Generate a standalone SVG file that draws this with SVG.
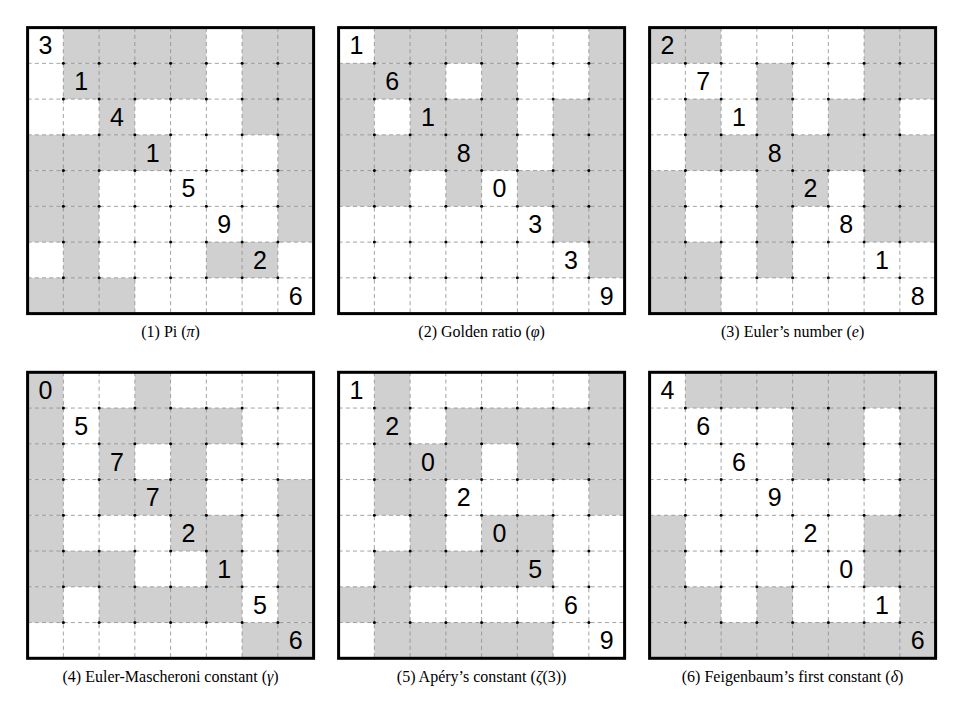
<svg xmlns="http://www.w3.org/2000/svg" xmlns:xlink="http://www.w3.org/1999/xlink" width="963" height="708" viewBox="0 0 963 708">
<style>
.sh{fill:#d0d0d0;stroke:none}
.dl{stroke:#8c8c8c;stroke-width:0.8;stroke-dasharray:4 3.2;fill:none}
.dt{fill:#000}
.bd{fill:none;stroke:#000;stroke-width:3}
.dg{font-family:"Liberation Sans",Arial,sans-serif;font-size:25px;fill:#000;text-anchor:middle}
.cp{font-family:"Liberation Serif","Times New Roman",serif;font-size:16px;fill:#000;text-anchor:middle}
.mi{font-style:italic}
</style>
<defs>
<g id="lattice">
<path class="dl" d="M35.75 0V286M71.5 0V286M107.25 0V286M143 0V286M178.75 0V286M214.5 0V286M250.25 0V286M0 35.75H286M0 71.5H286M0 107.25H286M0 143H286M0 178.75H286M0 214.5H286M0 250.25H286"/>
<g class="dt">
<circle cx="35.75" cy="35.75" r="1.5"/><circle cx="71.5" cy="35.75" r="1.5"/><circle cx="107.25" cy="35.75" r="1.5"/><circle cx="143" cy="35.75" r="1.5"/><circle cx="178.75" cy="35.75" r="1.5"/><circle cx="214.5" cy="35.75" r="1.5"/><circle cx="250.25" cy="35.75" r="1.5"/>
<circle cx="35.75" cy="71.5" r="1.5"/><circle cx="71.5" cy="71.5" r="1.5"/><circle cx="107.25" cy="71.5" r="1.5"/><circle cx="143" cy="71.5" r="1.5"/><circle cx="178.75" cy="71.5" r="1.5"/><circle cx="214.5" cy="71.5" r="1.5"/><circle cx="250.25" cy="71.5" r="1.5"/>
<circle cx="35.75" cy="107.25" r="1.5"/><circle cx="71.5" cy="107.25" r="1.5"/><circle cx="107.25" cy="107.25" r="1.5"/><circle cx="143" cy="107.25" r="1.5"/><circle cx="178.75" cy="107.25" r="1.5"/><circle cx="214.5" cy="107.25" r="1.5"/><circle cx="250.25" cy="107.25" r="1.5"/>
<circle cx="35.75" cy="143" r="1.5"/><circle cx="71.5" cy="143" r="1.5"/><circle cx="107.25" cy="143" r="1.5"/><circle cx="143" cy="143" r="1.5"/><circle cx="178.75" cy="143" r="1.5"/><circle cx="214.5" cy="143" r="1.5"/><circle cx="250.25" cy="143" r="1.5"/>
<circle cx="35.75" cy="178.75" r="1.5"/><circle cx="71.5" cy="178.75" r="1.5"/><circle cx="107.25" cy="178.75" r="1.5"/><circle cx="143" cy="178.75" r="1.5"/><circle cx="178.75" cy="178.75" r="1.5"/><circle cx="214.5" cy="178.75" r="1.5"/><circle cx="250.25" cy="178.75" r="1.5"/>
<circle cx="35.75" cy="214.5" r="1.5"/><circle cx="71.5" cy="214.5" r="1.5"/><circle cx="107.25" cy="214.5" r="1.5"/><circle cx="143" cy="214.5" r="1.5"/><circle cx="178.75" cy="214.5" r="1.5"/><circle cx="214.5" cy="214.5" r="1.5"/><circle cx="250.25" cy="214.5" r="1.5"/>
<circle cx="35.75" cy="250.25" r="1.5"/><circle cx="71.5" cy="250.25" r="1.5"/><circle cx="107.25" cy="250.25" r="1.5"/><circle cx="143" cy="250.25" r="1.5"/><circle cx="178.75" cy="250.25" r="1.5"/><circle cx="214.5" cy="250.25" r="1.5"/><circle cx="250.25" cy="250.25" r="1.5"/>
</g>
<rect class="bd" x="0" y="0" width="286" height="286"/>
</g>
</defs>
<rect width="963" height="708" fill="#fff"/>

<g id="puzzle-pi" transform="translate(27.6,27.6)">
<g class="sh">
<rect x="35.75" y="0" width="143" height="35.75"/><rect x="214.5" y="0" width="71.5" height="35.75"/>
<rect x="35.75" y="35.75" width="143" height="35.75"/><rect x="214.5" y="35.75" width="71.5" height="35.75"/>
<rect x="71.5" y="71.5" width="35.75" height="35.75"/><rect x="214.5" y="71.5" width="71.5" height="35.75"/>
<rect x="0" y="107.25" width="143" height="35.75"/><rect x="250.25" y="107.25" width="35.75" height="35.75"/>
<rect x="0" y="143" width="71.5" height="35.75"/><rect x="250.25" y="143" width="35.75" height="35.75"/>
<rect x="0" y="178.75" width="71.5" height="35.75"/><rect x="250.25" y="178.75" width="35.75" height="35.75"/>
<rect x="35.75" y="214.5" width="35.75" height="35.75"/><rect x="178.75" y="214.5" width="71.5" height="35.75"/>
<rect x="0" y="250.25" width="107.25" height="35.75"/>
</g>
<use xlink:href="#lattice" href="#lattice"/>
<g class="dg">
<text x="17.9" y="26.8">3</text><text x="53.6" y="62.6">1</text><text x="89.4" y="98.3">4</text><text x="125.1" y="134.1">1</text><text x="160.9" y="169.8">5</text><text x="196.6" y="205.6">9</text><text x="232.4" y="241.3">2</text><text x="268.1" y="277.1">6</text>
</g>
<text class="cp" x="143" y="309.5">(1) Pi (<tspan class="mi">π</tspan>)</text>
</g>

<g id="puzzle-golden-ratio" transform="translate(338.6,27.6)">
<g class="sh">
<rect x="35.75" y="0" width="143" height="35.75"/><rect x="250.25" y="0" width="35.75" height="35.75"/>
<rect x="0" y="35.75" width="107.25" height="35.75"/><rect x="143" y="35.75" width="35.75" height="35.75"/><rect x="250.25" y="35.75" width="35.75" height="35.75"/>
<rect x="0" y="71.5" width="35.75" height="35.75"/><rect x="71.5" y="71.5" width="107.25" height="35.75"/><rect x="214.5" y="71.5" width="71.5" height="35.75"/>
<rect x="0" y="107.25" width="178.75" height="35.75"/><rect x="214.5" y="107.25" width="71.5" height="35.75"/>
<rect x="0" y="143" width="71.5" height="35.75"/><rect x="107.25" y="143" width="35.75" height="35.75"/><rect x="178.75" y="143" width="107.25" height="35.75"/>
<rect x="214.5" y="178.75" width="71.5" height="35.75"/>
<rect x="250.25" y="214.5" width="35.75" height="35.75"/>
</g>
<use xlink:href="#lattice" href="#lattice"/>
<g class="dg">
<text x="17.9" y="26.8">1</text><text x="53.6" y="62.6">6</text><text x="89.4" y="98.3">1</text><text x="125.1" y="134.1">8</text><text x="160.9" y="169.8">0</text><text x="196.6" y="205.6">3</text><text x="232.4" y="241.3">3</text><text x="268.1" y="277.1">9</text>
</g>
<text class="cp" x="143" y="309.5">(2) Golden ratio (<tspan class="mi">φ</tspan>)</text>
</g>

<g id="puzzle-euler-number" transform="translate(649.6,27.6)">
<g class="sh">
<rect x="0" y="0" width="71.5" height="35.75"/><rect x="214.5" y="0" width="71.5" height="35.75"/>
<rect x="107.25" y="35.75" width="35.75" height="35.75"/><rect x="214.5" y="35.75" width="71.5" height="35.75"/>
<rect x="35.75" y="71.5" width="35.75" height="35.75"/><rect x="107.25" y="71.5" width="35.75" height="35.75"/><rect x="178.75" y="71.5" width="71.5" height="35.75"/>
<rect x="35.75" y="107.25" width="250.25" height="35.75"/>
<rect x="0" y="143" width="35.75" height="35.75"/><rect x="107.25" y="143" width="71.5" height="35.75"/><rect x="214.5" y="143" width="71.5" height="35.75"/>
<rect x="0" y="178.75" width="35.75" height="35.75"/><rect x="107.25" y="178.75" width="35.75" height="35.75"/><rect x="214.5" y="178.75" width="71.5" height="35.75"/>
<rect x="0" y="214.5" width="71.5" height="35.75"/><rect x="107.25" y="214.5" width="35.75" height="35.75"/>
<rect x="0" y="250.25" width="71.5" height="35.75"/>
</g>
<use xlink:href="#lattice" href="#lattice"/>
<g class="dg">
<text x="17.9" y="26.8">2</text><text x="53.6" y="62.6">7</text><text x="89.4" y="98.3">1</text><text x="125.1" y="134.1">8</text><text x="160.9" y="169.8">2</text><text x="196.6" y="205.6">8</text><text x="232.4" y="241.3">1</text><text x="268.1" y="277.1">8</text>
</g>
<text class="cp" x="143" y="309.5">(3) Euler’s number (<tspan class="mi">e</tspan>)</text>
</g>

<g id="puzzle-euler-mascheroni" transform="translate(27.6,372.3)">
<g class="sh">
<rect x="0" y="0" width="35.75" height="35.75"/><rect x="107.25" y="0" width="35.75" height="35.75"/>
<rect x="0" y="35.75" width="35.75" height="35.75"/><rect x="71.5" y="35.75" width="143" height="35.75"/>
<rect x="0" y="71.5" width="35.75" height="35.75"/><rect x="71.5" y="71.5" width="35.75" height="35.75"/><rect x="143" y="71.5" width="35.75" height="35.75"/>
<rect x="0" y="107.25" width="35.75" height="35.75"/><rect x="71.5" y="107.25" width="107.25" height="35.75"/><rect x="250.25" y="107.25" width="35.75" height="35.75"/>
<rect x="0" y="143" width="35.75" height="35.75"/><rect x="143" y="143" width="71.5" height="35.75"/><rect x="250.25" y="143" width="35.75" height="35.75"/>
<rect x="0" y="178.75" width="107.25" height="35.75"/><rect x="178.75" y="178.75" width="35.75" height="35.75"/><rect x="250.25" y="178.75" width="35.75" height="35.75"/>
<rect x="0" y="214.5" width="35.75" height="35.75"/><rect x="71.5" y="214.5" width="143" height="35.75"/><rect x="250.25" y="214.5" width="35.75" height="35.75"/>
<rect x="214.5" y="250.25" width="71.5" height="35.75"/>
</g>
<use xlink:href="#lattice" href="#lattice"/>
<g class="dg">
<text x="17.9" y="26.8">0</text><text x="53.6" y="62.6">5</text><text x="89.4" y="98.3">7</text><text x="125.1" y="134.1">7</text><text x="160.9" y="169.8">2</text><text x="196.6" y="205.6">1</text><text x="232.4" y="241.3">5</text><text x="268.1" y="277.1">6</text>
</g>
<text class="cp" x="143" y="309.5">(4) Euler-Mascheroni constant (<tspan class="mi">γ</tspan>)</text>
</g>

<g id="puzzle-apery" transform="translate(338.6,372.3)">
<g class="sh">
<rect x="35.75" y="0" width="35.75" height="35.75"/><rect x="250.25" y="0" width="35.75" height="35.75"/>
<rect x="35.75" y="35.75" width="35.75" height="35.75"/><rect x="107.25" y="35.75" width="178.75" height="35.75"/>
<rect x="35.75" y="71.5" width="107.25" height="35.75"/><rect x="178.75" y="71.5" width="107.25" height="35.75"/>
<rect x="35.75" y="107.25" width="71.5" height="35.75"/><rect x="250.25" y="107.25" width="35.75" height="35.75"/>
<rect x="71.5" y="143" width="35.75" height="35.75"/><rect x="143" y="143" width="71.5" height="35.75"/>
<rect x="35.75" y="178.75" width="178.75" height="35.75"/>
<rect x="0" y="214.5" width="71.5" height="35.75"/>
<rect x="35.75" y="250.25" width="178.75" height="35.75"/>
</g>
<use xlink:href="#lattice" href="#lattice"/>
<g class="dg">
<text x="17.9" y="26.8">1</text><text x="53.6" y="62.6">2</text><text x="89.4" y="98.3">0</text><text x="125.1" y="134.1">2</text><text x="160.9" y="169.8">0</text><text x="196.6" y="205.6">5</text><text x="232.4" y="241.3">6</text><text x="268.1" y="277.1">9</text>
</g>
<text class="cp" x="143" y="309.5">(5) Apéry’s constant (<tspan class="mi">ζ</tspan>(3))</text>
</g>

<g id="puzzle-feigenbaum" transform="translate(649.6,372.3)">
<g class="sh">
<rect x="35.75" y="0" width="250.25" height="35.75"/>
<rect x="143" y="35.75" width="71.5" height="35.75"/><rect x="250.25" y="35.75" width="35.75" height="35.75"/>
<rect x="143" y="71.5" width="71.5" height="35.75"/><rect x="250.25" y="71.5" width="35.75" height="35.75"/>
<rect x="250.25" y="107.25" width="35.75" height="35.75"/>
<rect x="0" y="143" width="35.75" height="35.75"/><rect x="214.5" y="143" width="71.5" height="35.75"/>
<rect x="0" y="178.75" width="35.75" height="35.75"/><rect x="214.5" y="178.75" width="71.5" height="35.75"/>
<rect x="0" y="214.5" width="71.5" height="35.75"/><rect x="107.25" y="214.5" width="35.75" height="35.75"/><rect x="250.25" y="214.5" width="35.75" height="35.75"/>
<rect x="0" y="250.25" width="286" height="35.75"/>
</g>
<use xlink:href="#lattice" href="#lattice"/>
<g class="dg">
<text x="17.9" y="26.8">4</text><text x="53.6" y="62.6">6</text><text x="89.4" y="98.3">6</text><text x="125.1" y="134.1">9</text><text x="160.9" y="169.8">2</text><text x="196.6" y="205.6">0</text><text x="232.4" y="241.3">1</text><text x="268.1" y="277.1">6</text>
</g>
<text class="cp" x="143" y="309.5">(6) Feigenbaum’s first constant (<tspan class="mi">δ</tspan>)</text>
</g>
</svg>
